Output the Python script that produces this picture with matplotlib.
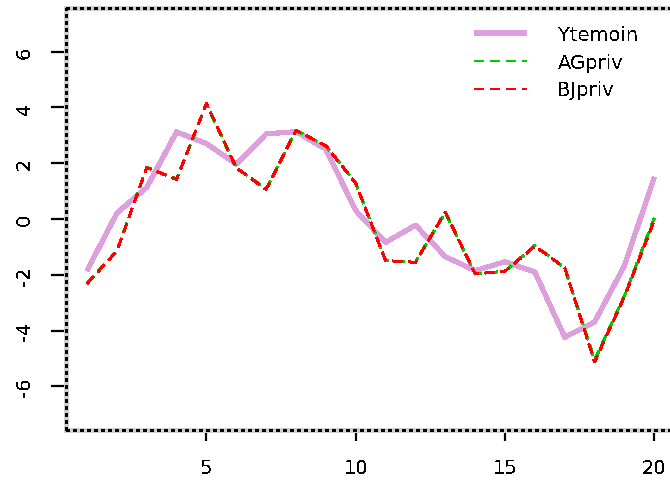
"""
Trajectoires : série témoin et deux estimations privées (AG, BJ)
"""

import numpy as np
import matplotlib
matplotlib.use("Agg")
import matplotlib.pyplot as plt
from matplotlib.lines import Line2D

# ============================================================
# DONNÉES
# ============================================================
temps = np.arange(1, 21)

y_temoin = [-1.85, 0.21, 1.13, 3.12, 2.70, 1.97, 3.05, 3.13, 2.50, 0.30,
            -0.84, -0.22, -1.35, -1.85, -1.53, -1.90, -4.24, -3.69, -1.67, 1.50]

ag_priv = [-2.30, -1.15, 1.85, 1.43, 4.12, 1.83, 1.08, 3.17, 2.62, 1.29,
           -1.49, -1.55, 0.24, -1.97, -1.87, -0.95, -1.75, -5.06, -2.75, 0.03]

bj_priv = [-2.32, -1.15, 1.84, 1.42, 4.14, 1.83, 1.06, 3.18, 2.62, 1.28,
           -1.49, -1.55, 0.25, -1.97, -1.87, -0.97, -1.75, -5.12, -2.78, -0.05]

noms = ["Ytemoin", "AGpriv", "BJpriv"]
x_ticks = [5, 10, 15, 20]
y_ticks = [-6, -4, -2, 0, 2, 4, 6]

# ============================================================
# STYLE
# ============================================================
plt.rcParams['font.family'] = ['DejaVu Sans']
plt.rcParams['lines.antialiased'] = False
plt.rcParams['text.antialiased'] = False

W, H = 670, 481
fig = plt.figure(figsize=(W / 100, H / 100), dpi=100)

# zone de tracé (en pixels) : gauche 66, haut 9, bas 431, droite hors image
x0, x1 = 66, 677
y_haut, y_bas = 9, 431
ax = fig.add_axes([x0 / W, 1 - y_bas / H, (x1 - x0) / W, (y_bas - y_haut) / H])

ax.plot(temps, y_temoin, color='#dda0dd', lw=3.0, solid_capstyle='butt',
        label=noms[0], zorder=3)
ax.plot(temps, ag_priv, color='#00cd00', lw=1.6, dashes=(4.2, 2.8),
        dash_capstyle='butt', label=noms[1], zorder=4)
ax.plot(temps, bj_priv, color='#ff0000', lw=1.6, dashes=(4.2, 2.8),
        dash_capstyle='butt', label=noms[2], zorder=5)

ax.set_xlim(0.296, 20.76)
ax.set_ylim(-7.56, 7.56)
ax.set_xticks(x_ticks)
ax.set_yticks(y_ticks)
ax.set_xticklabels([str(v) for v in x_ticks], fontsize=14)
ax.set_yticklabels([str(v) for v in y_ticks], fontsize=14, rotation=90, va='center')
ax.tick_params(axis='x', length=8, width=1.6, pad=12, colors='black')
ax.tick_params(axis='y', length=11, width=1.6, pad=12, colors='black')

# cadre pointillé tracé à la main : gris clair dessous, points noirs dessus
for cote in ax.spines.values():
    cote.set_visible(False)
for xs, ys in [([0, 1], [1, 1]), ([0, 0], [0, 1]), ([0, 1], [0, 0])]:
    ax.add_line(Line2D(xs, ys, transform=ax.transAxes, color='#d0d0d0',
                       lw=2.2, clip_on=False, zorder=6))
    ax.add_line(Line2D(xs, ys, transform=ax.transAxes, color='black',
                       lw=2.2, dashes=(1, 1), dash_capstyle='butt',
                       clip_on=False, zorder=7))

leg = ax.legend(loc='upper left', bbox_to_anchor=(474 / W, 1 - 26 / H),
                bbox_transform=fig.transFigure, frameon=False, fontsize=14,
                handlelength=2.75, handletextpad=1.55, labelspacing=0.45,
                borderpad=0, borderaxespad=0)

plt.savefig("out.png", dpi=100)
